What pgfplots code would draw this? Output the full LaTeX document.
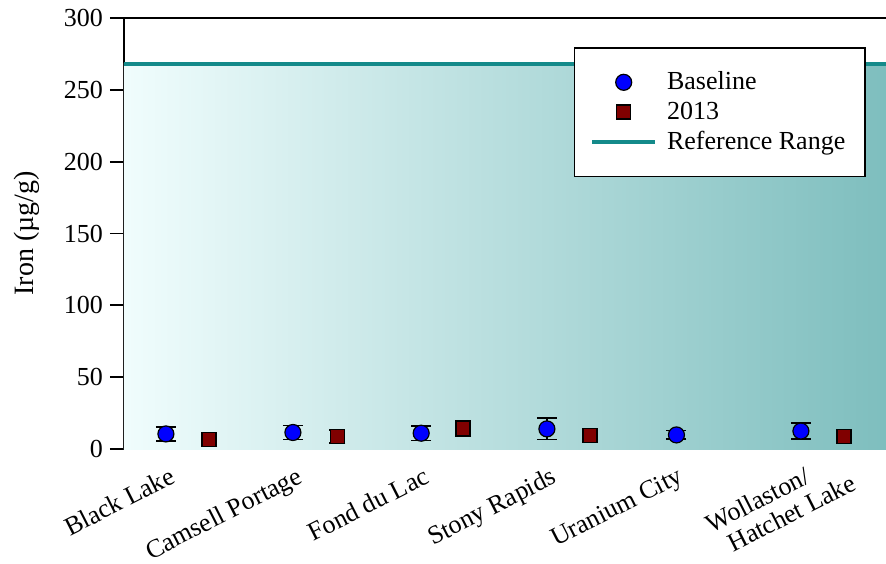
\documentclass[border=0pt]{standalone}
\usepackage{pgfplots}
\pgfplotsset{compat=1.18}
\usepackage{fontspec}
\setmainfont{Liberation Serif}
\definecolor{reflc}{RGB}{20,138,138}
\definecolor{shadeL}{RGB}{240,253,253}
\definecolor{shadeR}{RGB}{126,190,190}
\definecolor{maroonc}{RGB}{128,0,0}
\pgfplotsset{
  reflegend/.style={legend image code/.code={\draw[##1] (0cm,0cm) -- (1.1cm,0cm);}},
  marklegend/.style={legend image code/.code={\draw[mark repeat=2,mark phase=2,##1] plot coordinates {(0cm,0cm) (0.55cm,0cm) (1.1cm,0cm)};}},
}
\pgfplotstableread{
x y e
0.33 10.5 4.8
1.33 11.5 5.0
2.34 11.0 5.0
3.33 14.0 7.5
4.35 9.8 3.0
5.33 12.5 5.6
}\baseline
\pgfplotstableread{
x y e
0.67 6.5 4.2
1.68 8.8 4.5
2.67 14.2 5.5
3.67 9.6 2.7
5.67 8.6 2.6
}\yrtwo
\begin{document}
\begin{tikzpicture}
\begin{axis}[
  scale only axis, width=381pt, height=215.5pt,
  xmin=0, xmax=6, ymin=0, ymax=300,
  axis lines=left, axis line style={-, line width=0.9pt, black},
  ytick={0,50,...,300},
  tick align=outside, major tick length=7pt,
  y tick style={line width=0.9pt, black},
  xtick={0.5,1.5,2.5,3.5,4.5,5.5},
  xticklabels={Black Lake, Camsell Portage, Fond du Lac, Stony Rapids, Uranium City, {Wollaston/\\\hspace*{0.4em}\rlap{Hatchet Lake}}},
  x tick style={draw=none},
  xticklabel style={xshift=-9pt, rotate=27, anchor=north east, align=left, font=\fontsize{13}{13.5}\selectfont, inner sep=1pt},
  yticklabel style={font=\fontsize{13}{15}\selectfont},
  /pgf/number format/assume math mode=true,
  ylabel={Iron (µg/g)},
  ylabel style={font=\fontsize{14}{16}\selectfont, at={(axis description cs:-0.127,0.5)}, anchor=center},
  clip mode=individual,
  legend style={at={(rel axis cs:0.974,0.933)}, anchor=north east, draw=black, line width=0.9pt, fill=white,
    font=\fontsize{13}{15}\selectfont, inner xsep=8pt, inner ysep=10pt, row sep=0.5pt, cells={anchor=west},
    /tikz/every odd column/.append style={column sep=3pt}},
  legend cell align=left,
]
\addplot[draw=none, left color=shadeL, right color=shadeR, forget plot] coordinates {(0,268) (6,268)} \closedcycle;
\addplot[only marks, marklegend, mark=*, mark size=4pt, mark options={fill=blue, draw=black, line width=0.6pt},
  error bars/.cd, y dir=both, y explicit,
  error bar style={line width=0.8pt, black},
  error mark options={rotate=90, mark size=5pt, line width=0.8pt, black}]
  table[x=x, y=y, y error=e] {\baseline};
\addlegendentry{Baseline}
\addplot[only marks, marklegend, mark=square*, mark size=3.5pt, mark options={fill=maroonc, draw=black, line width=0.6pt},
  error bars/.cd, y dir=both, y explicit,
  error bar style={line width=0.8pt, black},
  error mark options={rotate=90, mark size=4pt, line width=0.8pt, black}]
  table[x=x, y=y, y error=e] {\yrtwo};
\addlegendentry{2013}
\addplot[reflc, line width=2pt, reflegend] coordinates {(0,268) (6,268)};
\addlegendentry{Reference Range}
\draw[black, line width=0.9pt] (rel axis cs:0,1) -- (rel axis cs:1,1);
\coordinate (O) at (rel axis cs:0,0);
\end{axis}
\pgfresetboundingbox
\path[use as bounding box] (O) ++(-62pt,-57pt) rectangle ++(443pt,281.5pt);
\end{tikzpicture}
\end{document}
